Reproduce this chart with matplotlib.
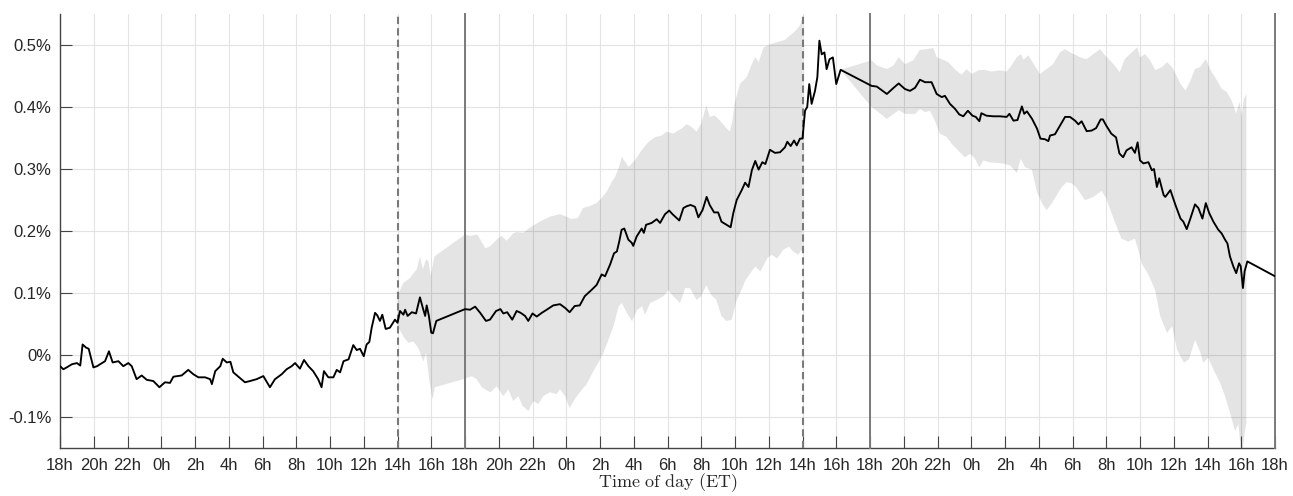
import numpy as np
import matplotlib.pyplot as plt

plt.rcParams['font.family'] = ['Liberation Sans', 'DejaVu Sans']
plt.rcParams['mathtext.fontset'] = 'cm'

# hours since 18h of the first day, values in %
line_hours = [0.0, 0.2, 0.4, 0.7, 1.0, 1.2, 1.34, 1.54, 1.7, 1.98, 2.2, 2.37, 2.67, 2.9, 3.12, 3.46, 3.75, 4.05, 4.25,
              4.54, 4.84, 5.14, 5.53, 5.89, 6.22, 6.52, 6.72, 7.21, 7.6, 7.9, 8.2, 8.6, 8.9, 9.0, 9.2, 9.5, 9.64, 9.88,
              10.1, 10.27, 10.57, 10.96, 11.26, 11.65, 12.05, 12.44, 12.74, 13.14, 13.43, 13.73, 13.93, 14.22, 14.46,
              14.72, 15.0, 15.3, 15.5, 15.64, 15.9, 16.2, 16.4, 16.6, 16.8, 17.1, 17.38, 17.58, 17.78, 18.0, 18.17,
              18.33, 18.47, 18.67, 18.8, 18.96, 19.1, 19.3, 19.55, 19.85, 20.0, 20.15, 20.35, 20.45, 20.6, 20.85, 21.1,
              21.33, 21.5, 21.64, 21.73, 21.86, 22.0, 22.1, 22.3, 24.0, 24.3, 24.6, 24.9, 25.24, 25.48, 25.84, 26.1,
              26.27, 26.5, 26.8, 27.06, 27.3, 27.56, 27.75, 28.0, 28.25, 28.55, 28.84, 29.23, 29.63, 29.93, 30.2, 30.5,
              30.8, 31.1, 31.5, 31.8, 32.1, 32.3, 32.6, 32.83, 33.0, 33.14, 33.28, 33.44, 33.68, 33.88, 33.97, 34.17,
              34.47, 34.6, 34.73, 35.06, 35.36, 35.56, 35.85, 36.1, 36.3, 36.7, 36.94, 37.14, 37.37, 37.63, 37.83,
              38.08, 38.32, 38.5, 38.76, 39.0, 39.2, 39.5, 39.74, 39.9, 40.1, 40.4, 40.6, 40.8, 41.0, 41.2, 41.4,
              41.62, 41.8, 42.07, 42.37, 42.67, 42.96, 43.1, 43.3, 43.5, 43.66, 43.85, 44.0, 44.15, 44.28, 44.4,
              44.54, 44.74, 44.88, 45.0, 45.14, 45.3, 45.43, 45.6, 45.8, 46.0, 46.26, 48.1, 48.4, 49.0, 49.4, 49.7,
              50.07, 50.37, 50.67, 50.96, 51.26, 51.65, 51.95, 52.25, 52.44, 52.74, 53.04, 53.29, 53.53, 53.8, 54.07,
              54.27, 54.48, 54.6, 54.9, 55.3, 55.7, 56.1, 56.26, 56.5, 56.74, 57.0, 57.14, 57.3, 57.6, 57.9, 58.1,
              58.37, 58.57, 58.67, 58.96, 59.26, 59.56, 59.85, 60.15, 60.35, 60.54, 60.84, 61.14, 61.4, 61.67, 61.8,
              62.0, 62.3, 62.58, 62.78, 63.0, 63.2, 63.5, 63.7, 63.86, 64.0, 64.2, 64.5, 64.7, 64.83, 65.0, 65.14,
              65.4, 65.5, 65.8, 66.1, 66.4, 66.57, 66.77, 66.96, 67.26, 67.46, 67.7, 67.9, 68.1, 68.35, 68.64, 68.84,
              69.04, 69.18, 69.33, 69.53, 69.7, 69.87, 69.97, 70.1, 70.2, 70.36, 72.0]
line_values = [-0.018, -0.023, -0.020, -0.015, -0.013, -0.017, 0.017, 0.012, 0.010, -0.020, -0.018, -0.015, -0.010,
               0.006, -0.012, -0.010, -0.018, -0.013, -0.018, -0.039, -0.033, -0.040, -0.042, -0.052, -0.044, -0.045,
               -0.035, -0.033, -0.024, -0.031, -0.036, -0.036, -0.039, -0.047, -0.026, -0.018, -0.006, -0.012, -0.011,
               -0.028, -0.035, -0.044, -0.042, -0.039, -0.034, -0.052, -0.039, -0.031, -0.023, -0.018, -0.013, -0.022,
               -0.008, -0.018, -0.026, -0.039, -0.052, -0.026, -0.036, -0.036, -0.024, -0.028, -0.010, -0.007, 0.016,
               0.008, 0.010, -0.002, 0.017, 0.021, 0.044, 0.068, 0.064, 0.055, 0.065, 0.042, 0.044, 0.057, 0.052,
               0.071, 0.065, 0.073, 0.063, 0.069, 0.067, 0.093, 0.076, 0.063, 0.080, 0.063, 0.036, 0.035, 0.055, 0.074,
               0.073, 0.078, 0.068, 0.055, 0.057, 0.071, 0.074, 0.067, 0.069, 0.057, 0.071, 0.068, 0.063, 0.055, 0.067,
               0.062, 0.068, 0.073, 0.080, 0.082, 0.076, 0.069, 0.079, 0.080, 0.095, 0.105, 0.113, 0.130, 0.127, 0.146,
               0.164, 0.167, 0.183, 0.202, 0.204, 0.186, 0.181, 0.176, 0.191, 0.204, 0.197, 0.210, 0.213, 0.219, 0.213,
               0.227, 0.233, 0.227, 0.217, 0.237, 0.240, 0.242, 0.239, 0.222, 0.234, 0.255, 0.242, 0.230, 0.230, 0.215,
               0.210, 0.206, 0.229, 0.250, 0.266, 0.278, 0.271, 0.298, 0.313, 0.299, 0.311, 0.308, 0.331, 0.326, 0.327,
               0.335, 0.344, 0.337, 0.346, 0.338, 0.349, 0.349, 0.394, 0.400, 0.437, 0.405, 0.426, 0.448, 0.507, 0.485,
               0.488, 0.461, 0.477, 0.480, 0.437, 0.460, 0.434, 0.433, 0.421, 0.431, 0.438, 0.429, 0.426, 0.431, 0.444,
               0.440, 0.440, 0.421, 0.416, 0.418, 0.405, 0.397, 0.388, 0.385, 0.394, 0.386, 0.384, 0.377, 0.390, 0.386,
               0.385, 0.385, 0.384, 0.389, 0.378, 0.379, 0.401, 0.389, 0.393, 0.381, 0.365, 0.349, 0.348, 0.345, 0.354,
               0.356, 0.370, 0.384, 0.384, 0.378, 0.372, 0.377, 0.361, 0.362, 0.366, 0.380, 0.380, 0.370, 0.357, 0.351,
               0.325, 0.319, 0.330, 0.335, 0.326, 0.343, 0.314, 0.309, 0.311, 0.298, 0.300, 0.271, 0.285, 0.258, 0.255,
               0.266, 0.242, 0.220, 0.215, 0.203, 0.218, 0.243, 0.237, 0.220, 0.245, 0.229, 0.215, 0.202, 0.196, 0.186,
               0.180, 0.159, 0.143, 0.132, 0.148, 0.143, 0.108, 0.135, 0.151, 0.127]

# first band (14h day 1 to 14h day 2)
band1_up_hours = [20.0, 20.35, 20.74, 21.14, 21.33, 21.5, 21.7, 21.83, 21.96, 22.2, 24.0, 24.3, 24.73, 25.2, 25.5,
                  25.88, 26.17, 26.47, 26.86, 27.06, 27.45, 27.95, 28.44, 29.04, 29.63, 30.0, 30.3, 30.7, 31.0, 31.4,
                  31.8, 32.1, 32.4, 32.7, 32.9, 33.1, 33.3, 33.5, 33.7, 34.1, 34.47, 34.86, 35.26, 35.66, 35.95, 36.34,
                  36.84, 37.14, 37.4, 37.73, 38.0, 38.3, 38.5, 38.8, 39.1, 39.4, 39.7, 39.86, 40.0, 40.3, 40.7, 41.0,
                  41.2, 41.4, 41.7, 42.07, 42.57, 42.96, 43.26, 43.56, 43.85, 44.0]
band1_up = [0.095, 0.116, 0.124, 0.138, 0.158, 0.138, 0.154, 0.151, 0.127, 0.159, 0.194, 0.192, 0.194, 0.172, 0.175,
            0.186, 0.192, 0.184, 0.196, 0.198, 0.197, 0.207, 0.215, 0.223, 0.227, 0.223, 0.219, 0.221, 0.237, 0.240,
            0.245, 0.253, 0.263, 0.279, 0.287, 0.301, 0.319, 0.311, 0.303, 0.315, 0.330, 0.343, 0.351, 0.354, 0.360,
            0.357, 0.365, 0.372, 0.368, 0.360, 0.373, 0.402, 0.384, 0.386, 0.378, 0.368, 0.360, 0.378, 0.408, 0.437,
            0.448, 0.469, 0.480, 0.472, 0.496, 0.501, 0.505, 0.508, 0.515, 0.522, 0.531, 0.544]
band1_lo_hours = [20.0, 20.35, 20.64, 20.94, 21.23, 21.53, 21.69, 21.88, 22.08, 22.2, 24.0, 24.4, 24.7, 25.0, 25.5,
                  25.88, 26.27, 26.57, 26.86, 27.16, 27.42, 27.75, 28.05, 28.34, 28.64, 29.04, 29.43, 29.63, 29.93,
                  30.2, 30.5, 30.8, 31.2, 31.6, 31.9, 32.2, 32.5, 32.8, 33.1, 33.3, 33.6, 33.9, 34.2, 34.5, 34.67,
                  34.96, 35.36, 35.75, 36.05, 36.34, 36.74, 37.04, 37.33, 37.73, 38.0, 38.3, 38.6, 38.9, 39.2, 39.5,
                  39.8, 40.1, 40.3, 40.6, 40.9, 41.2, 41.5, 41.9, 42.17, 42.5, 42.86, 43.2, 43.46, 43.75, 43.95, 44.0]
band1_lo = [0.047, 0.030, 0.020, 0.022, 0.012, -0.010, 0.004, -0.039, -0.071, -0.052, -0.038, -0.034, -0.039, -0.052,
            -0.060, -0.050, -0.066, -0.055, -0.074, -0.066, -0.082, -0.090, -0.074, -0.079, -0.066, -0.060, -0.063,
            -0.055, -0.066, -0.085, -0.071, -0.060, -0.047, -0.026, -0.012, 0.004, 0.025, 0.047, 0.079, 0.084, 0.068,
            0.055, 0.073, 0.079, 0.065, 0.084, 0.089, 0.095, 0.105, 0.095, 0.084, 0.108, 0.108, 0.089, 0.095, 0.113,
            0.097, 0.089, 0.063, 0.055, 0.057, 0.089, 0.100, 0.120, 0.132, 0.143, 0.135, 0.156, 0.162, 0.156, 0.170,
            0.175, 0.167, 0.162, 0.170, 0.170]

# second band (16h day 2 to 16h day 3)
band2_up_hours = [46.26, 48.1, 48.4, 49.0, 49.4, 49.7, 50.07, 50.57, 50.96, 51.36, 51.75, 51.95, 52.25, 52.64, 53.04,
                  53.43, 53.73, 54.02, 54.42, 54.7, 55.2, 55.7, 56.1, 56.4, 56.7, 56.93, 57.1, 57.38, 57.7, 58.07,
                  58.47, 58.86, 59.26, 59.56, 59.85, 60.25, 60.44, 60.84, 61.23, 61.63, 61.93, 62.42, 62.8, 63.1, 63.4,
                  63.84, 64.0, 64.3, 64.6, 64.9, 65.3, 65.6, 65.9, 66.2, 66.4, 66.7, 67.0, 67.26, 67.56, 67.9, 68.15,
                  68.55, 68.84, 69.14, 69.43, 69.7, 69.9, 70.03, 70.16, 70.3]
band2_up = [0.460, 0.475, 0.467, 0.461, 0.467, 0.480, 0.469, 0.475, 0.492, 0.493, 0.495, 0.480, 0.477, 0.472, 0.460,
            0.452, 0.461, 0.453, 0.459, 0.460, 0.457, 0.459, 0.457, 0.467, 0.480, 0.485, 0.476, 0.483, 0.469, 0.453,
            0.461, 0.469, 0.488, 0.493, 0.488, 0.483, 0.480, 0.477, 0.485, 0.493, 0.483, 0.469, 0.456, 0.477, 0.485,
            0.496, 0.480, 0.485, 0.475, 0.459, 0.464, 0.472, 0.464, 0.448, 0.437, 0.426, 0.443, 0.461, 0.464, 0.477,
            0.461, 0.443, 0.429, 0.424, 0.410, 0.389, 0.408, 0.384, 0.413, 0.420]
band2_lo_hours = [46.26, 48.1, 48.4, 49.0, 49.4, 49.7, 50.1, 50.67, 50.96, 51.26, 51.56, 51.85, 52.15, 52.54, 52.84,
                  53.23, 53.63, 53.93, 54.22, 54.48, 54.72, 55.1, 55.5, 55.9, 56.3, 56.7, 56.93, 57.2, 57.6, 57.9,
                  58.2, 58.47, 58.77, 59.06, 59.36, 59.65, 59.95, 60.25, 60.74, 61.23, 61.73, 62.0, 62.4, 62.9, 63.3,
                  63.7, 63.9, 64.1, 64.5, 64.9, 65.2, 65.6, 65.9, 66.2, 66.6, 66.9, 67.26, 67.56, 67.75, 68.05, 68.35,
                  68.74, 69.04, 69.33, 69.63, 69.83, 70.03, 70.2, 70.3]
band2_lo = [0.460, 0.400, 0.394, 0.381, 0.389, 0.395, 0.389, 0.389, 0.397, 0.392, 0.394, 0.378, 0.357, 0.352, 0.341,
            0.330, 0.319, 0.325, 0.317, 0.303, 0.314, 0.311, 0.310, 0.309, 0.306, 0.294, 0.317, 0.303, 0.299, 0.263,
            0.245, 0.234, 0.245, 0.258, 0.271, 0.279, 0.277, 0.270, 0.250, 0.255, 0.265, 0.253, 0.223, 0.188, 0.183,
            0.188, 0.170, 0.148, 0.130, 0.105, 0.063, 0.036, 0.047, 0.009, -0.012, -0.007, 0.025, 0.006, -0.012,
            -0.004, -0.023, -0.044, -0.066, -0.092, -0.122, -0.111, -0.165, -0.125, -0.109]

dashed_hours = [20, 44]
solid_hours = [24, 48, 72]
x_ticks = list(range(0, 73, 2))
x_labels = [f"{(18 + h) % 24}h" for h in x_ticks]
y_ticks = [-0.1, 0.0, 0.1, 0.2, 0.3, 0.4, 0.5]
y_labels = ["-0.1%", "0%", "0.1%", "0.2%", "0.3%", "0.4%", "0.5%"]

fig = plt.figure(figsize=(12.93, 4.96), dpi=100)
ax = fig.add_axes([60 / 1293, 48 / 496, 1215 / 1293, 434 / 496])

ax.grid(True, color='#e3e3e3', linewidth=0.8)
ax.set_axisbelow(True)

for uh, uv, lh, lv in [(band1_up_hours, band1_up, band1_lo_hours, band1_lo),
                       (band2_up_hours, band2_up, band2_lo_hours, band2_lo)]:
    px = np.concatenate([uh, lh[::-1]])
    py = np.concatenate([uv, lv[::-1]])
    ax.fill(px, py, facecolor='black', alpha=0.105, edgecolor='#d2d2d2', linewidth=0.6, zorder=2)

for h in dashed_hours:
    ax.axvline(h, color='#7a7a7a', linewidth=1.5, linestyle=(0, (3.5, 2)), zorder=3)
for h in solid_hours:
    ax.axvline(h, color='#7a7a7a', linewidth=1.4, zorder=3, clip_on=False)

ax.plot(line_hours, line_values, color='black', linewidth=1.35, zorder=4)

ax.set_xlim(0, 72)
ax.set_ylim(-0.15, 0.55)
ax.set_xticks(x_ticks)
ax.set_xticklabels(x_labels)
ax.set_yticks(y_ticks)
ax.set_yticklabels(y_labels)
ax.tick_params(direction='in', length=8.5, width=0.8, color='#444444', labelcolor='#262626',
               labelsize=12, top=False, right=False)
ax.tick_params(axis='x', pad=7)
ax.tick_params(axis='y', pad=6)

for s in ['top', 'right']:
    ax.spines[s].set_visible(False)
for s in ['left', 'bottom']:
    ax.spines[s].set_color('#444444')
    ax.spines[s].set_linewidth(1.0)

ax.set_xlabel(r'$\mathrm{Time\ of\ day\ (ET)}$', fontsize=13, color='#262626', labelpad=-1)

fig.savefig('out.png', dpi=100)
